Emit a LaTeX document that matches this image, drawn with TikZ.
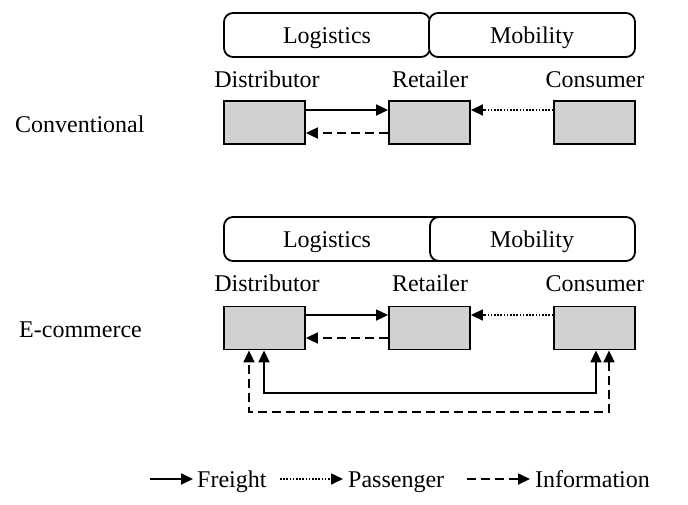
\documentclass[tikz,border=0pt]{standalone}
\usepackage{fontspec}
\setmainfont{Liberation Serif}
\usetikzlibrary{arrows.meta}
\begin{document}
\begin{tikzpicture}[x=1pt,y=-1pt,
  every node/.style={font=\fontsize{24}{28}\selectfont},
  actor/.style={draw,line width=1.8pt,fill=black!18,minimum width=81pt,minimum height=43pt,inner sep=0pt},
  zonebox/.style={draw,line width=1.8pt,fill=white,rounded corners=9pt,minimum height=44pt,inner sep=0pt},
  headtip/.style={-{Triangle[length=12pt,width=11pt]}},
  bothtips/.style={{Triangle[length=12pt,width=11pt]}-{Triangle[length=12pt,width=11pt]}},
  freight/.style={headtip,line width=1.8pt},
  passenger/.style={headtip,line width=1.6pt,dash pattern=on 1.6pt off 1.6pt},
  info/.style={headtip,line width=1.8pt,dash pattern=on 9pt off 5pt},
  lbl/.style={inner sep=0pt,anchor=base},
  side/.style={inner sep=0pt,anchor=base west}
]
\useasboundingbox (0,0) rectangle (688,504);

% ---- conventional chain ----
\node[zonebox,minimum width=206pt] (log1) at (327,35) {};
\node[zonebox,minimum width=206pt] (mob1) at (532,35) {};
\node[lbl] at (327,43) {Logistics};
\node[lbl] at (532,43) {Mobility};
\node[lbl] (dl1) at (267,87) {Distributor};
\node[lbl] (rl1) at (430,87) {Retailer};
\node[lbl] (cl1) at (595,87) {Consumer};
\node[actor] (d1) at (264.5,122.5) {};
\node[actor] (r1) at (429.5,122.5) {};
\node[actor] (c1) at (594.5,122.5) {};
\node[side] (conv) at (15,132) {Conventional};
\draw[freight] (d1.east |- 0,110) -- (r1.west |- 0,110);
\draw[info] (r1.west |- 0,133) -- (d1.east |- 0,133);
\draw[passenger] (c1.west |- 0,110) -- (r1.east |- 0,110);

% ---- e-commerce chain ----
\node[zonebox,minimum width=222pt] (log2) at (335,239) {};
\node[zonebox,minimum width=205pt] (mob2) at (532.5,239) {};
\node[lbl] at (327,247) {Logistics};
\node[lbl] at (532,247) {Mobility};
\node[lbl] (dl2) at (267,291) {Distributor};
\node[lbl] (rl2) at (430,291) {Retailer};
\node[lbl] (cl2) at (595,291) {Consumer};
\node[actor] (d2) at (264.5,328) {};
\node[actor] (r2) at (429.5,328) {};
\node[actor] (c2) at (594.5,328) {};
\node[side] (ecom) at (19,337) {E-commerce};
\draw[freight] (d2.east |- 0,315) -- (r2.west |- 0,315);
\draw[info] (r2.west |- 0,338) -- (d2.east |- 0,338);
\draw[passenger] (c2.west |- 0,315) -- (r2.east |- 0,315);
% direct links between distributor and consumer
\draw[freight,bothtips] (d2.south -| 264,0) -- (264,393) -- (596,393) -- (c2.south -| 596,0);
\draw[info,bothtips] (c2.south -| 609,0) -- (609,412) -- (249,412) -- (d2.south -| 249,0);

% ---- legend ----
\coordinate (f0) at (150,479);
\coordinate (f1) at (193,479);
\draw[freight] (f0) -- (f1);
\node[side] (ft) at (197,487) {Freight};
\coordinate (p0) at (280,479);
\coordinate (p1) at (343,479);
\draw[passenger] (p0) -- (p1);
\node[side] (pt) at (348,487) {Passenger};
\coordinate (i0) at (467,479);
\coordinate (i1) at (530,479);
\draw[info] (i0) -- (i1);
\node[side] (it) at (535,487) {Information};
\end{tikzpicture}
\end{document}
